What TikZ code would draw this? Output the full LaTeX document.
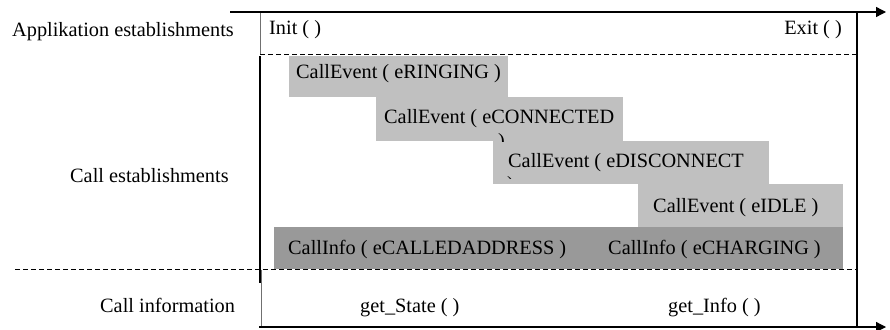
\documentclass[tikz,border=0pt]{standalone}
\usepackage{fontspec}
\setmainfont{Liberation Serif}
\usetikzlibrary{arrows.meta}
\definecolor{evgray}{HTML}{C0C0C0}
\definecolor{infogray}{HTML}{999999}
\definecolor{thinrule}{HTML}{707070}

\begin{document}
\begin{tikzpicture}[x=1pt,y=-1pt,
  font=\fontsize{20.3}{24.5}\selectfont,
  lbl/.style={inner sep=0pt, anchor=base west},
  lblr/.style={inner sep=0pt, anchor=base east},
  evbox/.style={fill=evgray, draw=none, inner sep=0pt, anchor=north west},
  infobox/.style={fill=infogray, draw=none, inner sep=0pt, anchor=north west},
  axis/.style={line width=1.3pt, -{Triangle[length=10pt,width=10pt]}},
  sep/.style={line width=1.1pt, dash pattern=on 5pt off 3pt},
  frame/.style={line width=1.3pt},
  faint/.style={line width=0.7pt, draw=thinrule}]
\useasboundingbox (0,0) rectangle (890,329);

% event boxes (light) and info box (dark)
\node[evbox, minimum width=219pt, minimum height=41pt] (bRing) at (289,56) {};
\node[evbox, minimum width=247pt, minimum height=44pt] (bConn) at (376,97) {};
\node[evbox, minimum width=276pt, minimum height=43pt] (bDisc) at (493,141) {};
\node[evbox, minimum width=205pt, minimum height=43pt] (bIdle) at (638,184) {};
\node[infobox, minimum width=569pt, minimum height=42pt] (bInfo) at (274,227) {};

% box texts
\node[lbl] (tRing) at (296,78) {CallEvent ( eRINGING )};
\node[lbl] (tConn) at (384,123) {CallEvent ( eCONNECTED};
\begin{scope}
  \clip (376,97) rectangle (623,141);
  \node[lbl] (tConnTail) at (498,147.5) {)};
\end{scope}
\node[lbl] (tDisc) at (508,167) {CallEvent ( eDISCONNECT};
\begin{scope}
  \clip (493,141) rectangle (769,178);
  \node[lbl] (tDiscTail) at (507,190.5) {)};
\end{scope}
\node[lbl] (tIdle) at (653,212) {CallEvent ( eIDLE )};
\node[lbl] (tAddr) at (288,254) {CallInfo ( eCALLEDADDRESS )};
\node[lbl] (tChrg) at (608,254) {CallInfo ( eCHARGING )};

% interface calls
\node[lbl] (tInit) at (269,35) {Init ( )};
\node[lblr] (tExit) at (842,35) {Exit ( )};
\node[lbl] (tState) at (360,312) {get\_State ( )};
\node[lbl] (tInfo) at (668,312) {get\_Info ( )};

% layer labels
\node[lbl] (lApp) at (12,37) {Applikation establishments};
\node[lbl] (lCall) at (70,182) {Call establishments};
\node[lbl] (lInfo) at (100,312) {Call information};

% frame points
\coordinate (topStart) at (230,12);
\coordinate (topEnd) at (886,12);
\coordinate (botStart) at (259,327);
\coordinate (botEnd) at (886,327);
\coordinate (rTop) at (857,12);
\coordinate (rBot) at (857,327);
\coordinate (lA) at (260,12);
\coordinate (lB) at (260,54);
\coordinate (lC) at (260,56);
\coordinate (lD) at (260,283);
\coordinate (lE) at (261,270);
\coordinate (lF) at (261,327);
\coordinate (dTopL) at (260,54.5);
\coordinate (dTopR) at (857,54.5);
\coordinate (dBotL) at (15,269.5);
\coordinate (dBotR) at (857,269.5);

% layer separators
\draw[sep] (dTopL) -- (dTopR);
\draw[sep] (dBotL) -- (dBotR);

% verticals
\draw[faint] (lA) -- (lB);
\draw[frame] (lC) -- (lD);
\draw[faint] (lE) -- (lF);
\draw[frame] (rTop) -- (rBot);

% time axes
\draw[axis] (topStart) -- (topEnd);
\draw[axis] (botStart) -- (botEnd);
\end{tikzpicture}
\end{document}
